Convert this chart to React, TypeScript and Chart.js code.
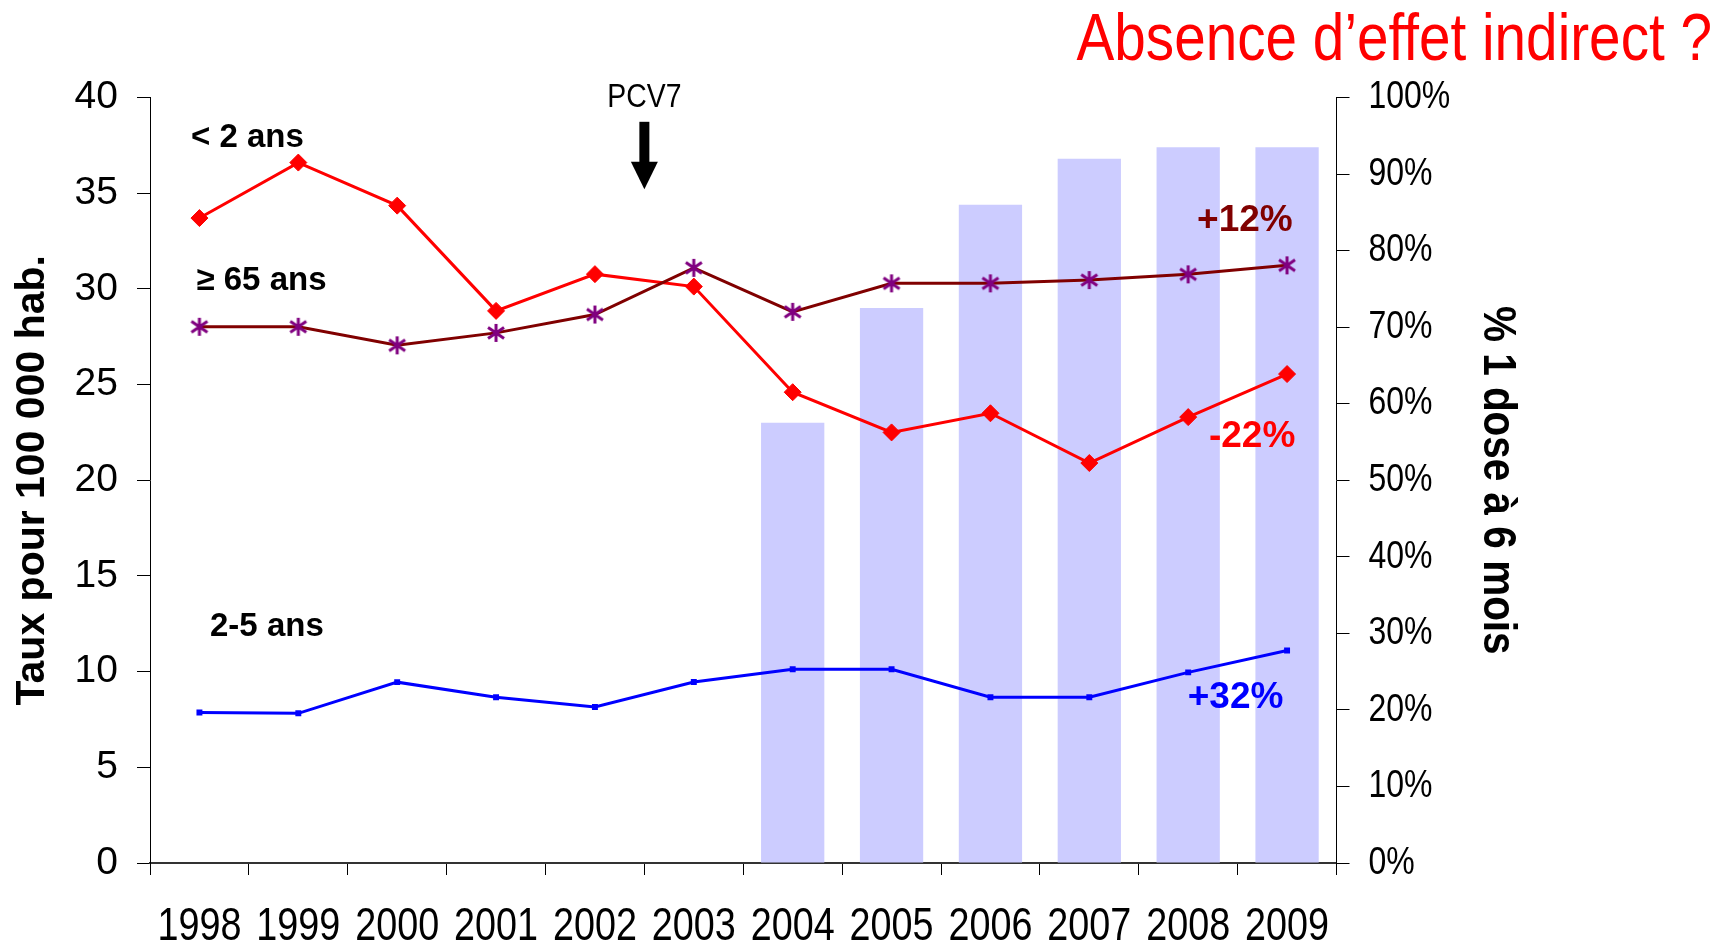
import React, { useEffect, useRef } from 'react';
import { Chart, registerables } from 'chart.js';

Chart.register(...registerables);

// ---- data ----
const years = ['1998', '1999', '2000', '2001', '2002', '2003', '2004', '2005', '2006', '2007', '2008', '2009'];
const under2 = [33.7, 36.6, 34.35, 28.85, 30.77, 30.12, 24.6, 22.5, 23.5, 20.9, 23.3, 25.55];
const over65 = [28.02, 28.02, 27.05, 27.7, 28.66, 31.1, 28.8, 30.29, 30.29, 30.46, 30.76, 31.23];
const age2to5 = [7.86, 7.82, 9.45, 8.66, 8.15, 9.46, 10.12, 10.12, 8.66, 8.66, 9.96, 11.1];
const coverage = [null, null, null, null, null, null, 57.5, 72.5, 86.0, 92.0, 93.5, 93.5];

const groupLabels = [
  { text: '< 2 ans', x: -0.085, y: 37.9, color: '#000000' },
  { text: '≥ 65 ans', x: -0.03, y: 30.4, color: '#000000' },
  { text: '2-5 ans', x: 0.107, y: 12.35, color: '#000000' },
];
const changeLabels = [
  { text: '+12%', x: 10.09, y: 33.55, color: '#800000' },
  { text: '-22%', x: 10.21, y: 22.25, color: '#FF0000' },
  { text: '+32%', x: 9.995, y: 8.65, color: '#0000FF' },
];
const pcv7 = { text: 'PCV7', x: 4.5, labelY: 40.0, shaftTop: 38.73, neck: 36.64, tip: 35.2 };
const titleText = 'Absence d’effet indirect ?';
const leftTitle = 'Taux pour 100 000 hab.';
const rightTitle = '% 1 dose à 6 mois';

const SANS = "'Liberation Sans', Arial, Helvetica, sans-serif";
const NARROW_X = 0.82; // horizontal squeeze to mimic a narrow face

function makeAsterisk(): HTMLCanvasElement {
  const c = document.createElement('canvas');
  c.width = 20;
  c.height = 20;
  const g = c.getContext('2d')!;
  g.strokeStyle = '#800080';
  g.lineWidth = 3;
  g.lineCap = 'butt';
  g.beginPath();
  g.moveTo(10, 1);
  g.lineTo(10, 19);
  g.moveTo(2, 4.5);
  g.lineTo(18, 15.5);
  g.moveTo(2, 15.5);
  g.lineTo(18, 4.5);
  g.stroke();
  return c;
}

function narrowText(
  ctx: CanvasRenderingContext2D,
  text: string,
  x: number,
  y: number,
  font: string,
  sx: number,
  align: CanvasTextAlign,
  baseline: CanvasTextBaseline,
  rotation = 0,
) {
  ctx.save();
  ctx.translate(x, y);
  if (rotation) ctx.rotate(rotation);
  ctx.scale(sx, 1);
  ctx.font = font;
  ctx.textAlign = align;
  ctx.textBaseline = baseline;
  ctx.fillText(text, 0, 0);
  ctx.restore();
}

const annotPlugin = {
  id: 'annot',
  afterDraw(chart: any) {
    const { ctx, chartArea } = chart;
    const x = chart.scales.x;
    const y = chart.scales.y;
    const y1 = chart.scales.y1;
    ctx.save();

    // x tick labels (narrow)
    ctx.fillStyle = '#000000';
    x.ticks.forEach((_t: any, i: number) => {
      narrowText(ctx, years[i], x.getPixelForTick(i), chartArea.bottom + 77, `46px ${SANS}`, NARROW_X, 'center', 'alphabetic');
    });

    // right axis tick labels (narrow)
    y1.ticks.forEach((t: any) => {
      narrowText(ctx, `${t.value}%`, y1.left + 32, y1.getPixelForValue(t.value), `39px ${SANS}`, NARROW_X, 'left', 'middle');
    });

    // right axis title (narrow bold, rotated)
    narrowText(ctx, rightTitle, 1496.5, (chartArea.top + chartArea.bottom) / 2, `bold 46px ${SANS}`, 0.88, 'center', 'middle', Math.PI / 2);

    // group labels
    ctx.textBaseline = 'middle';
    ctx.textAlign = 'left';
    ctx.font = `bold 33px ${SANS}`;
    for (const a of groupLabels) {
      ctx.fillStyle = a.color;
      ctx.fillText(a.text, x.getPixelForValue(a.x), y.getPixelForValue(a.y));
    }
    ctx.font = `bold 37px ${SANS}`;
    for (const a of changeLabels) {
      ctx.fillStyle = a.color;
      ctx.fillText(a.text, x.getPixelForValue(a.x), y.getPixelForValue(a.y));
    }

    // PCV7 arrow
    const ax = x.getPixelForValue(pcv7.x);
    const yTop = y.getPixelForValue(pcv7.shaftTop);
    const yNeck = y.getPixelForValue(pcv7.neck);
    const yTip = y.getPixelForValue(pcv7.tip);
    ctx.fillStyle = '#000000';
    ctx.fillRect(ax - 5, yTop, 10, yNeck - yTop + 1);
    ctx.beginPath();
    ctx.moveTo(ax - 13.5, yNeck);
    ctx.lineTo(ax + 13.5, yNeck);
    ctx.lineTo(ax, yTip);
    ctx.closePath();
    ctx.fill();
    narrowText(ctx, pcv7.text, ax, y.getPixelForValue(pcv7.labelY), `33px ${SANS}`, 0.86, 'center', 'middle');

    // title
    ctx.fillStyle = '#FF0000';
    narrowText(ctx, titleText, chart.width - 7, 60, `67px ${SANS}`, 0.846, 'right', 'alphabetic');
    ctx.restore();
  },
};

export default function App() {
  const ref = useRef<HTMLCanvasElement | null>(null);

  useEffect(() => {
    if (!ref.current) return;
    const star = makeAsterisk();
    const chart = new Chart(ref.current, {
      type: 'bar',
      data: {
        labels: years,
        datasets: [
          {
            type: 'line',
            label: '< 2 ans',
            data: under2,
            yAxisID: 'y',
            borderColor: '#FF0000',
            backgroundColor: '#FF0000',
            borderWidth: 3,
            pointStyle: 'rectRot',
            pointRadius: 8.5,
            pointBorderWidth: 1,
            pointBorderColor: '#FF0000',
            pointBackgroundColor: '#FF0000',
            tension: 0,
            order: 1,
          } as any,
          {
            type: 'line',
            label: '≥ 65 ans',
            data: over65,
            yAxisID: 'y',
            borderColor: '#800000',
            backgroundColor: '#800080',
            borderWidth: 3,
            pointStyle: star,
            pointRadius: 9,
            tension: 0,
            order: 0,
          } as any,
          {
            type: 'line',
            label: '2-5 ans',
            data: age2to5,
            yAxisID: 'y',
            borderColor: '#0000FF',
            backgroundColor: '#0000FF',
            borderWidth: 3,
            pointStyle: 'rect',
            pointRadius: 4.2,
            pointBorderWidth: 0,
            pointBackgroundColor: '#0000FF',
            tension: 0,
            order: 2,
          } as any,
          {
            type: 'bar',
            label: rightTitle,
            data: coverage,
            yAxisID: 'y1',
            backgroundColor: '#CCCCFF',
            borderWidth: 0,
            barPercentage: 0.64,
            categoryPercentage: 1,
            order: 10,
          } as any,
        ],
      },
      options: {
        animation: false,
        responsive: false,
        maintainAspectRatio: false,
        devicePixelRatio: 1,
        layout: { padding: { top: 97.5, left: 0, right: 0, bottom: 0 } },
        plugins: {
          legend: { display: false },
          tooltip: { enabled: false },
          title: { display: false },
        },
        scales: {
          x: {
            type: 'category',
            offset: true,
            grid: {
              offset: true,
              drawOnChartArea: false,
              drawTicks: true,
              tickLength: 12,
              color: '#000000',
              lineWidth: 1,
            },
            border: { display: true, color: '#333333', width: 2 },
            ticks: { display: false, autoSkip: false, maxRotation: 0 },
            afterFit: (s: any) => {
              s.height = 79;
            },
          },
          y: {
            type: 'linear',
            position: 'left',
            min: 0,
            max: 40,
            ticks: {
              stepSize: 5,
              color: '#000000',
              font: { family: SANS, size: 39 },
              padding: 19,
            },
            grid: {
              drawOnChartArea: false,
              tickLength: 13,
              color: '#000000',
              lineWidth: 1,
            },
            border: { display: true, color: '#000000', width: 1 },
            title: {
              display: true,
              text: leftTitle,
              color: '#000000',
              font: { family: SANS, size: 41, weight: 'bold' },
              padding: { top: 8, bottom: 0 },
            },
            afterFit: (s: any) => {
              s.width = 150;
            },
          },
          y1: {
            type: 'linear',
            position: 'right',
            min: 0,
            max: 100,
            ticks: { display: false, stepSize: 10 },
            grid: {
              drawOnChartArea: false,
              tickLength: 13,
              color: '#000000',
              lineWidth: 1,
            },
            border: { display: true, color: '#000000', width: 1 },
            afterFit: (s: any) => {
              s.width = 382.5;
            },
          },
        },
      },
      plugins: [annotPlugin],
    });
    return () => chart.destroy();
  }, []);

  return (
    <div style={{ position: 'fixed', left: 0, top: 0, width: 1719, height: 942, background: '#ffffff' }}>
      <canvas ref={ref} width={1719} height={942} style={{ display: 'block', width: 1719, height: 942 }} />
    </div>
  );
}
